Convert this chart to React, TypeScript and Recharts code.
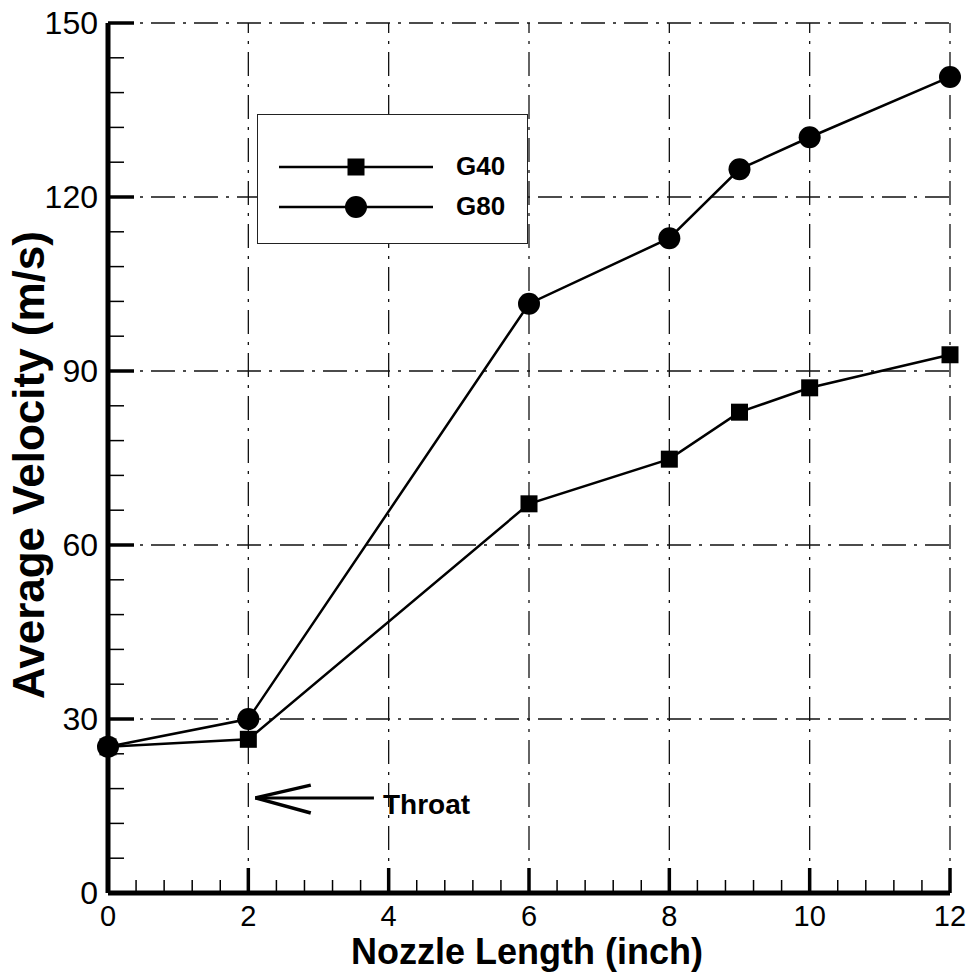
import React from 'react';
import { LineChart, Line, XAxis, YAxis, ReferenceLine, Legend } from 'recharts';

// ---- data ----
const nozzleLength = [0, 2, 6, 8, 9, 10, 12];
const g40Velocity = [25.2, 26.5, 67.1, 74.8, 82.9, 87.1, 92.8];
const g80Velocity = [25.2, 30.0, 101.6, 112.9, 124.8, 130.3, 140.7];
const seriesNames = ['G40', 'G80'];

const xMajorTicks = [0, 2, 4, 6, 8, 10, 12];
const xAllTicks = [
  0, 0.4, 0.8, 1.2, 1.6, 2, 2.4, 2.8, 3.2, 3.6, 4, 4.4, 4.8, 5.2, 5.6, 6,
  6.4, 6.8, 7.2, 7.6, 8, 8.4, 8.8, 9.2, 9.6, 10, 10.4, 10.8, 11.2, 11.6, 12,
];
const yMajorTicks = [0, 30, 60, 90, 120, 150];
const yAllTicks = [
  0, 6, 12, 18, 24, 30, 36, 42, 48, 54, 60, 66, 72, 78, 84, 90, 96, 102, 108,
  114, 120, 126, 132, 138, 144, 150,
];
const xGridLines = [2, 4, 6, 8, 10, 12];
const yGridLines = [30, 60, 90, 120, 150];

const xTitle = 'Nozzle Length (inch)';
const yTitle = 'Average Velocity (m/s)';

// throat annotation (data coordinates)
const throatLabel = 'Throat';
const throatTip = { x: 2.1, y: 16.4 };
const throatTail = { x: 3.79, y: 16.4 };
const throatHeadUpper = { x: 2.89, y: 18.6 };
const throatHeadLower = { x: 2.89, y: 13.8 };

const data = nozzleLength.map((x, i) => ({ x, G40: g40Velocity[i], G80: g80Velocity[i] }));

const FONT = '"Liberation Sans", Arial, Helvetica, sans-serif';
const GRID_DASH = '24 8 3 8';

const XTick = (props: any) => {
  const { x, y, payload } = props;
  const v = payload.value;
  const major = xMajorTicks.includes(v);
  return (
    <g>
      <line x1={x} x2={x} y1={y} y2={y - (major ? 25 : 13)} stroke="#000" strokeWidth={major ? 3.5 : 1.5} />
      {major && (
        <text x={x} y={y + 33} textAnchor="middle" fontSize={29} fontFamily={FONT} fill="#000">
          {v}
        </text>
      )}
    </g>
  );
};

const YTick = (props: any) => {
  const { x, y, payload } = props;
  const v = payload.value;
  const major = yMajorTicks.includes(v);
  return (
    <g>
      <line x1={x} x2={x + (major ? 26 : 16)} y1={y} y2={y} stroke="#000" strokeWidth={major ? 3.5 : 1.5} />
      {major && (
        <text x={x - 10} y={y + 11} textAnchor="end" fontSize={32} fontFamily={FONT} fill="#000">
          {v}
        </text>
      )}
    </g>
  );
};

const SquareDot = (props: any) => {
  const { cx, cy } = props;
  if (cx == null || cy == null) return null;
  return <rect x={cx - 8.5} y={cy - 8.5} width={17} height={17} fill="#000" />;
};

const CircleDot = (props: any) => {
  const { cx, cy } = props;
  if (cx == null || cy == null) return null;
  return <circle cx={cx} cy={cy} r={11} fill="#000" />;
};

const renderLegend = (props: any) => {
  const payload = props.payload || [];
  return (
    <div
      style={{
        width: 271,
        height: 130,
        border: '1.5px solid #222',
        background: '#fff',
        boxSizing: 'border-box',
      }}
    >
      <svg width={268} height={127} style={{ display: 'block' }}>
        {payload.map((entry: any, i: number) => {
          const cy = 52 + i * 40;
          const name = entry.value;
          return (
            <g key={name}>
              <line x1={21} x2={175} y1={cy} y2={cy} stroke="#000" strokeWidth={2.5} />
              {name === seriesNames[0] ? (
                <rect x={98 - 8.5} y={cy - 8.5} width={17} height={17} fill="#000" />
              ) : (
                <circle cx={98} cy={cy} r={11} fill="#000" />
              )}
              <text x={198} y={cy + 8} fontSize={26} fontWeight="bold" fontFamily={FONT} fill="#000">
                {name}
              </text>
            </g>
          );
        })}
      </svg>
    </div>
  );
};

export default function App() {
  return (
    <div style={{ position: 'absolute', left: 0, top: 0, background: '#fff' }}>
      <LineChart
        width={967}
        height={975}
        data={data}
        margin={{ top: 23, right: 17, left: 0, bottom: 0 }}
      >
        <XAxis
          type="number"
          dataKey="x"
          domain={[0, 12]}
          ticks={xAllTicks}
          interval={0}
          tickLine={false}
          tickSize={0}
          tickMargin={0}
          axisLine={{ stroke: '#000', strokeWidth: 5 }}
          tick={XTick}
          height={82}
          label={{
            content: (p: any) => {
              const vb = p.viewBox || {};
              return (
                <text
                  x={vb.x + vb.width / 2 - 2}
                  y={vb.y + 71}
                  textAnchor="middle"
                  fontSize={36}
                  fontWeight="bold"
                  fontFamily={FONT}
                  fill="#000"
                >
                  {xTitle}
                </text>
              );
            },
          }}
        />
        <YAxis
          type="number"
          domain={[0, 150]}
          ticks={yAllTicks}
          interval={0}
          tickLine={false}
          tickSize={0}
          tickMargin={0}
          axisLine={{ stroke: '#000', strokeWidth: 5 }}
          tick={YTick}
          width={108}
          label={{
            content: (p: any) => {
              const vb = p.viewBox || {};
              const cx = 44;
              const cy = vb.y + vb.height / 2 + 7;
              return (
                <text
                  x={cx}
                  y={cy}
                  transform={`rotate(-90, ${cx}, ${cy})`}
                  textAnchor="middle"
                  fontSize={44}
                  fontWeight="bold"
                  fontFamily={FONT}
                  fill="#000"
                >
                  {yTitle}
                </text>
              );
            },
          }}
        />
        {yGridLines.map((v) => (
          <ReferenceLine key={'h' + v} y={v} stroke="#111" strokeWidth={1.3} strokeDasharray={GRID_DASH} />
        ))}
        {xGridLines.map((v) => (
          <ReferenceLine key={'v' + v} x={v} stroke="#111" strokeWidth={1.3} strokeDasharray={GRID_DASH} />
        ))}
        <ReferenceLine
          segment={[throatTip, throatTail]}
          stroke="#000"
          strokeWidth={3}
          label={{
            content: (p: any) => {
              const vb = p.viewBox || {};
              return (
                <text
                  x={vb.x + vb.width + 9}
                  y={vb.y + 16}
                  fontSize={28}
                  fontWeight="bold"
                  fontFamily={FONT}
                  fill="#000"
                >
                  {throatLabel}
                </text>
              );
            },
          }}
        />
        <ReferenceLine segment={[throatTip, throatHeadUpper]} stroke="#000" strokeWidth={3.5} />
        <ReferenceLine segment={[throatTip, throatHeadLower]} stroke="#000" strokeWidth={3.5} />
        <Line
          type="linear"
          dataKey="G40"
          name={seriesNames[0]}
          stroke="#000"
          strokeWidth={2.5}
          dot={SquareDot}
          activeDot={false}
          isAnimationActive={false}
        />
        <Line
          type="linear"
          dataKey="G80"
          name={seriesNames[1]}
          stroke="#000"
          strokeWidth={2.5}
          dot={CircleDot}
          activeDot={false}
          isAnimationActive={false}
        />
        <Legend
          content={renderLegend}
          layout="vertical"
          verticalAlign="middle"
          align="center"
          width={271}
          height={130}
          wrapperStyle={{ left: 257, top: 114, width: 271, height: 130 }}
        />
      </LineChart>
    </div>
  );
}
